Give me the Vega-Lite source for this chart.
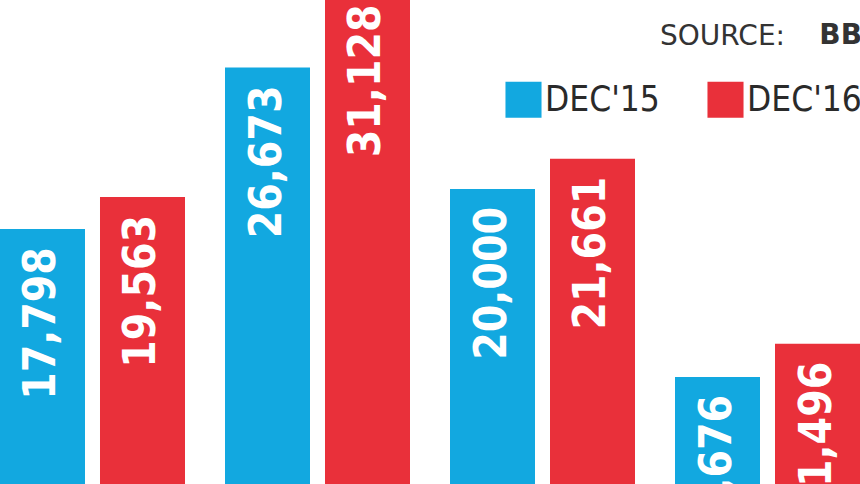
{
  "$schema": "https://vega.github.io/schema/vega-lite/v6.json",
  "width": 860,
  "height": 484,
  "autosize": {"type": "none"},
  "padding": 0,
  "background": "white",
  "config": {"view": {"stroke": null}},
  "title": {
    "text": "SOURCE:",
    "anchor": "start",
    "frame": "group",
    "orient": "top",
    "offset": 0,
    "dx": 660,
    "dy": 73,
    "baseline": "alphabetic",
    "font": "DejaVu Sans",
    "fontSize": 28,
    "fontWeight": "normal",
    "color": "#333333"
  },
  "data": {
    "values": [
      {"group": "G1", "period": "DEC'15", "value": 17798},
      {"group": "G1", "period": "DEC'16", "value": 19563},
      {"group": "G2", "period": "DEC'15", "value": 26673},
      {"group": "G2", "period": "DEC'16", "value": 31128},
      {"group": "G3", "period": "DEC'15", "value": 20000},
      {"group": "G3", "period": "DEC'16", "value": 21661},
      {"group": "G4", "period": "DEC'15", "value": 9676},
      {"group": "G4", "period": "DEC'16", "value": 11496}
    ]
  },
  "encoding": {
    "x": {"field": "group", "type": "nominal", "axis": null, "sort": null,
          "scale": {"paddingInner": 0.17778, "paddingOuter": 0}},
    "xOffset": {"field": "period", "type": "nominal", "sort": null,
                "scale": {"paddingInner": 0.15, "paddingOuter": 0}},
    "y": {"field": "value", "type": "quantitative", "axis": null,
          "scale": {"domain": [3791, 30385], "zero": false, "nice": false}}
  },
  "layer": [
    {
      "mark": {"type": "bar", "clip": true},
      "encoding": {
        "color": {
          "field": "period", "type": "nominal",
          "scale": {"domain": ["DEC'15", "DEC'16"], "range": ["#12a8e0", "#e9303a"]},
          "legend": {
            "title": "BB",
            "orient": "none",
            "legendX": 505,
            "legendY": 22,
            "direction": "horizontal",
            "padding": 0,
            "titleAnchor": "end",
            "titleFont": "DejaVu Sans",
            "titleFontSize": 28,
            "titleFontWeight": "bold",
            "titleColor": "#333333",
            "titlePadding": 31,
            "titleLimit": 400,
            "labelFont": "Liberation Sans Narrow, DejaVu Sans Condensed, Roboto",
            "labelFontSize": 35,
            "labelColor": "#2a2a2a",
            "labelOffset": 3,
            "labelLimit": 200,
            "symbolType": "square",
            "symbolSize": 1300,
            "symbolStrokeWidth": 0,
            "columnPadding": 47
          }
        }
      }
    },
    {
      "mark": {"type": "text", "clip": true, "angle": 270, "align": "right", "baseline": "middle",
               "dx": -18, "font": "Liberation Sans Narrow, DejaVu Sans Condensed, Roboto", "fontWeight": "bold", "fontSize": 44,
               "fill": "white"},
      "encoding": {
        "text": {"field": "value", "type": "quantitative", "format": ","}
      }
    }
  ]
}
